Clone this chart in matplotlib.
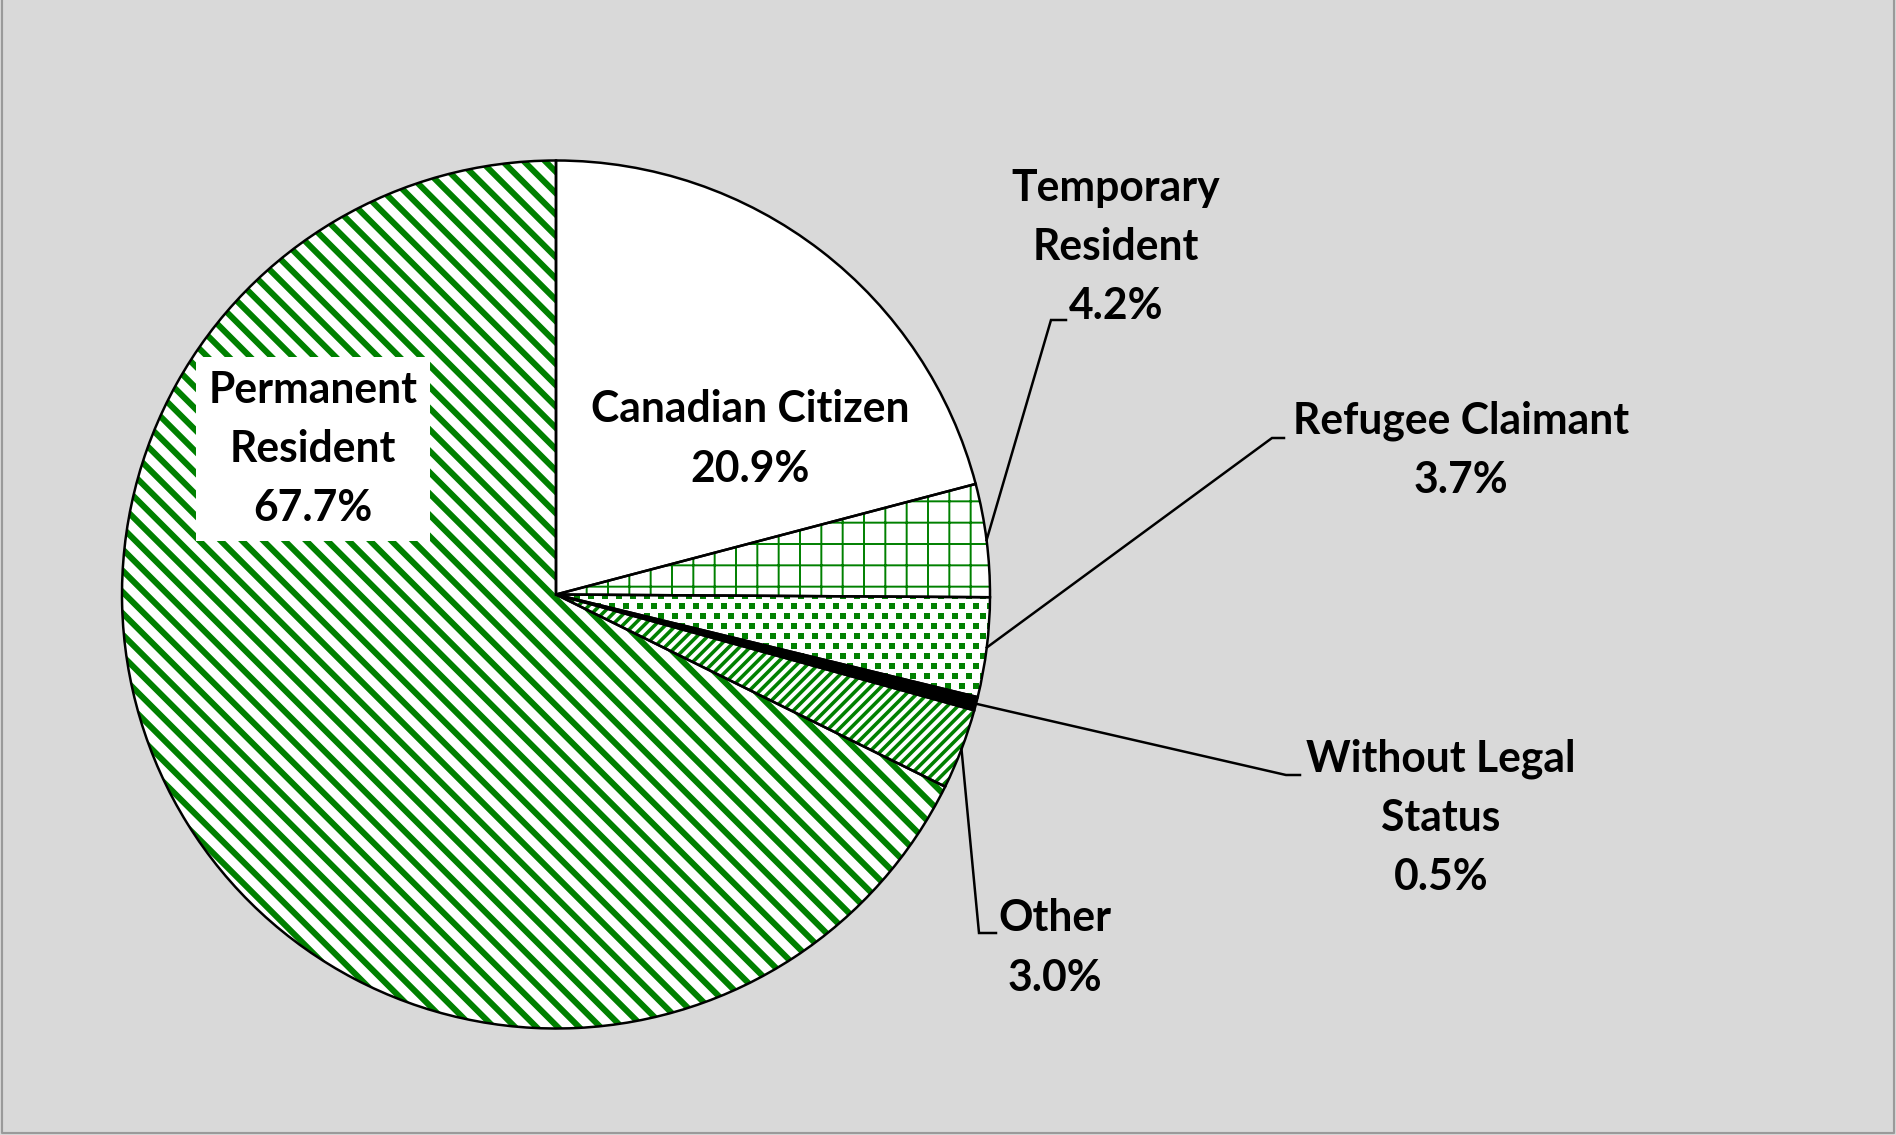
import numpy as np
import matplotlib.pyplot as plt
from matplotlib.patches import Polygon

plt.rcParams['font.family'] = ['Lato', 'DejaVu Sans']

# immigration status shares, clockwise from 12 o'clock
labels = ['Canadian Citizen', 'Temporary\nResident', 'Refugee Claimant',
          'Without Legal\nStatus', 'Other', 'Permanent\nResident']
shares = [20.9, 4.2, 3.7, 0.5, 3.0, 67.7]

# fill styles per slice (the refugee slice gets a dotted texture below)
faces = ['white', 'white', 'white', 'black', 'white', 'white']
hatches = ['', '+', '', '', '////', '\\\\']
hatch_widths = [1.0, 1.1, 1.0, 1.0, 2.0, 3.4]

# label centres and leader elbows (pixel coords, y up); None = label inside slice
label_pos = [(750, 696), (1116, 888), (1461, 685), (1441, 317), (1055, 187), (313, 686)]
elbows = [None, (1051, 815), (1272, 697), (1286, 360), (979, 202), None]
ends = [None, (1066, 815), (1284, 697), (1300, 360), (996, 202), None]

DPI = 128
W, H = 1896, 1135
CENTER = (556, 540.5)
RADIUS = 434
GREEN = '#008000'

fig = plt.figure(figsize=(W / DPI, H / DPI), dpi=DPI, facecolor='#d9d9d9')
ax = fig.add_axes([0, 0, 1, 1])

# pie geometry; fills are redrawn as flattened polygons so the hatching
# follows the rim cleanly
wedges, _ = ax.pie(shares, startangle=90, counterclock=False, center=CENTER,
                   radius=RADIUS, frame=True,
                   wedgeprops=dict(fill=False, edgecolor='black', linewidth=1.4,
                                   zorder=3))

fills = []
for w, fc, ht, hw in zip(wedges, faces, hatches, hatch_widths):
    verts = w.get_path().to_polygons()[0]
    p = Polygon(verts, closed=True, facecolor=fc, edgecolor=GREEN,
                linewidth=0, hatch=ht or None, zorder=1)
    if hasattr(p, 'set_hatch_linewidth'):
        p.set_hatch_linewidth(hw)
    ax.add_patch(p)
    fills.append(p)

# staggered green squares for the refugee slice
dot_x, dot_y = [], []
for j, y in enumerate(np.arange(CENTER[1] - 0.35 * RADIUS, CENTER[1] + 10, 10)):
    xs = np.arange(CENTER[0] + (j % 2) * 7, CENTER[0] + RADIUS + 10, 14)
    dot_x.extend(xs)
    dot_y.extend([y] * len(xs))
dots = ax.scatter(dot_x, dot_y, marker='s', s=(6 * 72 / DPI) ** 2,
                  color=GREEN, linewidths=0, zorder=2)
dots.set_clip_path(fills[2])

ax.set_xlim(0, W)
ax.set_ylim(0, H)
ax.set_aspect('equal')
ax.axis('off')

for i, (lab, val) in enumerate(zip(labels, shares)):
    txt = f'{lab}\n{val:.1f}%'
    box = None
    if i == 5:
        box = dict(boxstyle='square,pad=0.3', fc='white', ec='none')
    ax.text(*label_pos[i], txt, ha='center', va='center', fontsize=24,
            fontweight='bold', linespacing=1.58, bbox=box, zorder=5)
    if elbows[i] is not None:
        w = wedges[i]
        mid = np.deg2rad((w.theta1 + w.theta2) / 2)
        x0 = CENTER[0] + RADIUS * np.cos(mid)
        y0 = CENTER[1] + RADIUS * np.sin(mid)
        ax.plot([x0, elbows[i][0], ends[i][0]], [y0, elbows[i][1], ends[i][1]],
                color='black', lw=1.4, solid_joinstyle='miter', zorder=4)

# thin frame along left, bottom and right edges
ax.plot([2, 2, W - 2, W - 2], [H + 5, 2, 2, H + 5], color='#9a9a9a', lw=1.2,
        clip_on=False)

fig.savefig('out.png', dpi=DPI, facecolor=fig.get_facecolor())
